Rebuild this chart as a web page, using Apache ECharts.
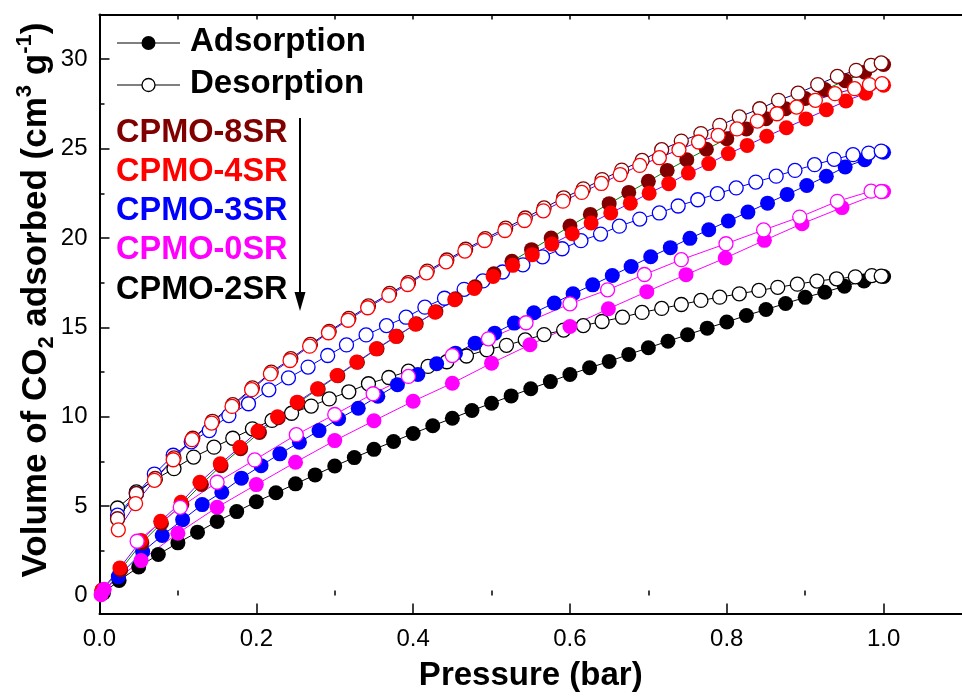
<!DOCTYPE html>
<html><head><meta charset="utf-8">
<script src="https://cdn.jsdelivr.net/npm/echarts@6/dist/echarts.min.js"></script>
<style>html,body{margin:0;padding:0;background:#fff}#c{width:962px;height:698px}</style>
</head><body><div id="c"></div>
<script>
// ---- tick values ----
const xTickValues = [0, 0.2, 0.4, 0.6, 0.8, 1.0];
const xMinorValues = [0.1, 0.3, 0.5, 0.7, 0.9];
const xTopValues = [0.1, 0.2, 0.3, 0.4, 0.5, 0.6, 0.7, 0.8, 0.9, 1.0];
const yTickValues = [0, 5, 10, 15, 20, 25, 30];
const yMinorValues = [2.5, 7.5, 12.5, 17.5, 22.5, 27.5, 32.5];

// ---- legend texts ----
const modeNames = ['Adsorption', 'Desorption'];
const sampleNames = ['CPMO-8SR', 'CPMO-4SR', 'CPMO-3SR', 'CPMO-0SR', 'CPMO-2SR'];

// ---- data: [pressure (bar), volume (cm3/g)] ----
const ads2SR = [[0.005,0.15],[0.025,0.85],[0.05,1.6],[0.075,2.3],[0.1,2.95],[0.125,3.55],[0.15,4.15],[0.175,4.7],[0.2,5.25],[0.225,5.75],[0.25,6.25],[0.275,6.75],[0.3,7.25],[0.325,7.72],[0.35,8.18],[0.375,8.62],[0.4,9.07],[0.425,9.5],[0.45,9.92],[0.475,10.35],[0.5,10.76],[0.525,11.17],[0.55,11.57],[0.575,11.97],[0.6,12.37],[0.625,12.74],[0.65,13.1],[0.675,13.49],[0.7,13.86],[0.725,14.23],[0.75,14.59],[0.775,14.96],[0.8,15.3],[0.825,15.67],[0.85,16.0],[0.875,16.34],[0.9,16.68],[0.925,16.97],[0.95,17.3],[0.975,17.6],[1.0,17.85]];
const des2SR = [[0.023,4.9],[0.047,5.8],[0.071,6.5],[0.095,7.1],[0.12,7.75],[0.146,8.3],[0.17,8.8],[0.195,9.33],[0.22,9.8],[0.245,10.2],[0.27,10.6],[0.293,11.0],[0.318,11.4],[0.343,11.85],[0.369,12.2],[0.394,12.55],[0.419,12.82],[0.443,13.08],[0.468,13.4],[0.494,13.75],[0.519,14.0],[0.543,14.3],[0.567,14.6],[0.592,14.85],[0.617,15.1],[0.641,15.33],[0.667,15.57],[0.692,15.84],[0.717,16.06],[0.742,16.28],[0.767,16.51],[0.791,16.69],[0.816,16.88],[0.841,17.07],[0.865,17.24],[0.89,17.42],[0.915,17.59],[0.94,17.72],[0.964,17.83],[0.985,17.9],[0.997,17.87]];
const ads3SR = [[0.005,0.3],[0.024,1.06],[0.055,2.46],[0.08,3.36],[0.106,4.24],[0.131,5.09],[0.156,5.78],[0.181,6.57],[0.206,7.27],[0.23,7.93],[0.255,8.58],[0.28,9.23],[0.305,9.89],[0.33,10.48],[0.355,11.15],[0.38,11.8],[0.406,12.37],[0.43,12.97],[0.454,13.56],[0.479,14.12],[0.504,14.68],[0.529,15.24],[0.554,15.82],[0.58,16.36],[0.604,16.88],[0.629,17.38],[0.654,17.9],[0.678,18.41],[0.703,18.95],[0.728,19.46],[0.753,19.98],[0.777,20.46],[0.802,20.95],[0.827,21.45],[0.852,21.95],[0.877,22.44],[0.902,22.94],[0.927,23.45],[0.951,23.97],[0.976,24.38],[1.0,24.8]];
const des3SR = [[0.023,4.5],[0.047,5.7],[0.07,6.8],[0.094,7.85],[0.117,8.6],[0.14,9.23],[0.165,10.07],[0.19,10.73],[0.216,11.51],[0.241,12.18],[0.266,12.78],[0.291,13.43],[0.315,14.02],[0.34,14.58],[0.366,15.1],[0.391,15.57],[0.415,16.13],[0.44,16.63],[0.465,17.13],[0.489,17.6],[0.514,18.1],[0.54,18.5],[0.565,18.95],[0.59,19.4],[0.614,19.85],[0.639,20.22],[0.663,20.66],[0.689,21.06],[0.714,21.4],[0.738,21.79],[0.763,22.14],[0.788,22.48],[0.812,22.8],[0.837,23.13],[0.863,23.46],[0.887,23.78],[0.912,24.1],[0.937,24.4],[0.961,24.66],[0.981,24.75],[0.997,24.86]];
const ads8SR = [[0.003,0.3],[0.027,1.45],[0.054,2.95],[0.079,4.05],[0.105,5.1],[0.13,6.22],[0.155,7.27],[0.18,8.22],[0.204,9.12],[0.228,9.95],[0.253,10.78],[0.279,11.55],[0.304,12.3],[0.329,13.05],[0.354,13.8],[0.379,14.5],[0.404,15.2],[0.429,15.88],[0.454,16.6],[0.479,17.27],[0.503,18.0],[0.526,18.7],[0.551,19.35],[0.576,20.0],[0.6,20.67],[0.626,21.32],[0.65,21.92],[0.675,22.55],[0.7,23.17],[0.724,23.78],[0.749,24.38],[0.774,24.96],[0.8,25.55],[0.825,26.1],[0.85,26.67],[0.875,27.23],[0.9,27.8],[0.925,28.3],[0.951,28.8],[0.976,29.27],[1.0,29.7]];
const des8SR = [[0.023,4.3],[0.047,5.7],[0.071,6.55],[0.095,7.7],[0.119,8.8],[0.144,9.75],[0.17,10.68],[0.195,11.62],[0.219,12.5],[0.244,13.25],[0.269,14.05],[0.293,14.78],[0.318,15.5],[0.343,16.2],[0.37,16.9],[0.394,17.5],[0.418,18.15],[0.443,18.77],[0.467,19.37],[0.492,19.97],[0.518,20.55],[0.543,21.12],[0.567,21.68],[0.592,22.25],[0.617,22.75],[0.641,23.27],[0.666,23.8],[0.692,24.34],[0.717,24.94],[0.742,25.42],[0.767,25.84],[0.791,26.3],[0.816,26.77],[0.842,27.23],[0.866,27.7],[0.891,28.1],[0.916,28.58],[0.941,29.04],[0.965,29.38],[0.984,29.66],[0.997,29.79]];
const ads4SR = [[0.003,0.3],[0.026,1.55],[0.053,3.08],[0.078,4.16],[0.104,5.22],[0.128,6.34],[0.154,7.37],[0.179,8.3],[0.202,9.2],[0.227,10.0],[0.252,10.82],[0.278,11.57],[0.303,12.31],[0.328,13.06],[0.353,13.8],[0.378,14.5],[0.403,15.18],[0.428,15.85],[0.453,16.55],[0.478,17.18],[0.502,17.85],[0.527,18.47],[0.552,19.07],[0.577,19.66],[0.603,20.24],[0.627,20.84],[0.652,21.4],[0.677,21.95],[0.701,22.51],[0.726,23.04],[0.751,23.63],[0.777,24.16],[0.802,24.72],[0.826,25.18],[0.851,25.69],[0.876,26.17],[0.901,26.66],[0.927,27.17],[0.952,27.66],[0.977,28.1],[1.0,28.55]];
const des4SR = [[0.024,3.68],[0.046,5.15],[0.07,6.45],[0.094,7.6],[0.118,8.72],[0.143,9.65],[0.169,10.58],[0.194,11.52],[0.218,12.4],[0.243,13.15],[0.268,13.95],[0.292,14.7],[0.317,15.4],[0.342,16.1],[0.369,16.8],[0.393,17.4],[0.417,18.05],[0.442,18.67],[0.466,19.27],[0.491,19.86],[0.517,20.42],[0.542,20.98],[0.566,21.52],[0.591,22.06],[0.615,22.55],[0.64,23.05],[0.664,23.55],[0.689,24.06],[0.714,24.49],[0.739,24.94],[0.764,25.37],[0.789,25.74],[0.813,26.1],[0.839,26.54],[0.864,26.95],[0.889,27.32],[0.913,27.7],[0.938,28.07],[0.963,28.35],[0.982,28.58],[0.998,28.63]];
const ads0SR = [[0.002,0.05],[0.006,0.35],[0.053,1.96],[0.1,3.49],[0.15,4.94],[0.2,6.21],[0.25,7.46],[0.3,8.67],[0.35,9.78],[0.4,10.87],[0.45,11.88],[0.5,13.0],[0.549,14.03],[0.6,15.05],[0.649,16.04],[0.698,17.0],[0.748,17.95],[0.798,18.88],[0.848,19.87],[0.896,20.8],[0.947,21.7],[1.0,22.6]];
const des0SR = [[0.048,3.04],[0.103,4.94],[0.15,6.34],[0.198,7.59],[0.251,9.0],[0.3,10.13],[0.349,11.29],[0.394,12.26],[0.45,13.43],[0.496,14.36],[0.544,15.26],[0.6,16.32],[0.648,17.1],[0.695,17.96],[0.742,18.79],[0.799,19.68],[0.847,20.45],[0.893,21.17],[0.941,22.05],[0.984,22.62],[0.997,22.6]];

// ---- styles ----
const FONT = "'Liberation Sans', Arial, Helvetica, sans-serif";
const sampleColors = ['#800000', '#ff0000', '#0000ff', '#ff00ff', '#000000'];

function adsSeries(data, color, lineColor) {
  return { type: 'line', data: data, symbol: 'circle', symbolSize: 15,
    itemStyle: { color: color, borderWidth: 0 },
    lineStyle: { color: lineColor, width: 1 }, clip: true };
}
function desSeries(data, color, lineColor) {
  return { type: 'line', data: data, symbol: 'circle', symbolSize: 14,
    itemStyle: { color: '#ffffff', borderColor: color, borderWidth: 1.3 },
    lineStyle: { color: lineColor, width: 1 }, clip: true };
}

const chart = echarts.init(document.getElementById('c'), null, { renderer: 'canvas' });

const X0 = 99.5, XW = 870.5, Y0 = 14.5, YH = 599;

const graphics = [];
// legend rows
graphics.push({ type: 'line', shape: { x1: 117, y1: 43, x2: 180, y2: 43 }, style: { stroke: '#000', lineWidth: 1 } });
graphics.push({ type: 'circle', shape: { cx: 148.5, cy: 43, r: 7 }, style: { fill: '#000' } });
graphics.push({ type: 'text', x: 190, y: 42, style: { text: modeNames[0], fill: '#000', font: 'bold 33px ' + FONT, textVerticalAlign: 'middle', verticalAlign: 'middle' } });
graphics.push({ type: 'line', shape: { x1: 117, y1: 85, x2: 180, y2: 85 }, style: { stroke: '#000', lineWidth: 1 } });
graphics.push({ type: 'circle', shape: { cx: 148.5, cy: 85, r: 6.5 }, style: { fill: '#fff', stroke: '#000', lineWidth: 1.3 } });
graphics.push({ type: 'text', x: 190, y: 84, style: { text: modeNames[1], fill: '#000', font: 'bold 33px ' + FONT, textVerticalAlign: 'middle', verticalAlign: 'middle' } });
const labelY = [133, 172, 211, 250, 290];
sampleNames.forEach((n, i) => {
  graphics.push({ type: 'text', x: 116, y: labelY[i], style: { text: n, fill: sampleColors[i], font: 'bold 32.5px ' + FONT, verticalAlign: 'middle', textVerticalAlign: 'middle' } });
});
// arrow
graphics.push({ type: 'line', shape: { x1: 300, y1: 118, x2: 300, y2: 296 }, style: { stroke: '#000', lineWidth: 2 } });
graphics.push({ type: 'polygon', shape: { points: [[294.5, 292], [305.5, 292], [300, 311]] }, style: { fill: '#000' } });
// y axis title
graphics.push({ type: 'text', x: 36, y: 300, rotation: Math.PI / 2,
  style: {
    text: '{a|Volume of CO}{sub|2}{a| adsorbed (cm}{sup|3}{a| g}{sup|-1}{a|)}',
    align: 'center', verticalAlign: 'middle', textAlign: 'center', textVerticalAlign: 'middle',
    rich: {
      a: { fontFamily: FONT, fontWeight: 'bold', fontSize: 35, lineHeight: 44, verticalAlign: 'middle', fill: '#000', color: '#000' },
      sub: { fontFamily: FONT, fontWeight: 'bold', fontSize: 22, lineHeight: 20, verticalAlign: 'bottom', fill: '#000', color: '#000' },
      sup: { fontFamily: FONT, fontWeight: 'bold', fontSize: 22, lineHeight: 20, verticalAlign: 'top', fill: '#000', color: '#000' }
    }
  } });

const axisLineStyle = { show: true, lineStyle: { color: '#000', width: 2 } };

const option = {
  animation: false,
  backgroundColor: '#fff',
  grid: { left: X0, top: Y0, width: XW, height: YH, containLabel: false },
  xAxis: [
    { type: 'value', position: 'bottom', min: 0, max: 1.1,
      axisLine: Object.assign({ onZero: false }, axisLineStyle),
      axisTick: { show: true, inside: true, length: 10, lineStyle: { color: '#000', width: 1.5 }, customValues: xTickValues },
      axisLabel: { show: true, margin: 14, color: '#000', fontSize: 24, fontFamily: FONT, customValues: xTickValues, formatter: v => v.toFixed(1) },
      splitLine: { show: false },
      name: 'Pressure (bar)', nameLocation: 'middle', nameGap: 46,
      nameTextStyle: { color: '#000', fontSize: 33, fontWeight: 'bold', fontFamily: FONT } },
    { type: 'value', position: 'bottom', min: 0, max: 1.1,
      axisLine: { show: false },
      axisTick: { show: true, inside: true, length: 5, lineStyle: { color: '#000', width: 1.5 }, customValues: xMinorValues },
      axisLabel: { show: false }, splitLine: { show: false } },
    { type: 'value', position: 'top', min: 0, max: 1.1,
      axisLine: Object.assign({ onZero: false }, axisLineStyle),
      axisTick: { show: true, inside: true, length: 5, lineStyle: { color: '#000', width: 1.5 }, customValues: xTopValues },
      axisLabel: { show: false }, splitLine: { show: false } }
  ],
  yAxis: [
    { type: 'value', position: 'left', min: -1, max: 32.5,
      axisLine: Object.assign({ onZero: false }, axisLineStyle),
      axisTick: { show: true, inside: true, length: 10, lineStyle: { color: '#000', width: 1.5 }, customValues: yTickValues },
      axisLabel: { show: true, margin: 12, color: '#000', fontSize: 24, fontFamily: FONT, customValues: yTickValues },
      splitLine: { show: false } },
    { type: 'value', position: 'left', min: -1, max: 32.5,
      axisLine: { show: false },
      axisTick: { show: true, inside: true, length: 5, lineStyle: { color: '#000', width: 1.5 }, customValues: yMinorValues },
      axisLabel: { show: false }, splitLine: { show: false } }
  ],
  series: [
    adsSeries(ads2SR, sampleColors[4], '#000000'),
    desSeries(des2SR, sampleColors[4], '#000000'),
    adsSeries(ads3SR, sampleColors[2], '#0000ff'),
    desSeries(des3SR, sampleColors[2], '#0000ff'),
    adsSeries(ads8SR, sampleColors[0], '#008000'),
    desSeries(des8SR, sampleColors[0], '#000080'),
    adsSeries(ads4SR, sampleColors[1], '#8000ff'),
    desSeries(des4SR, sampleColors[1], '#6a00d0'),
    adsSeries(ads0SR, sampleColors[3], '#ff00ff'),
    desSeries(des0SR, sampleColors[3], '#ff00ff')
  ],
  graphic: graphics
};
chart.setOption(option);
</script></body></html>
